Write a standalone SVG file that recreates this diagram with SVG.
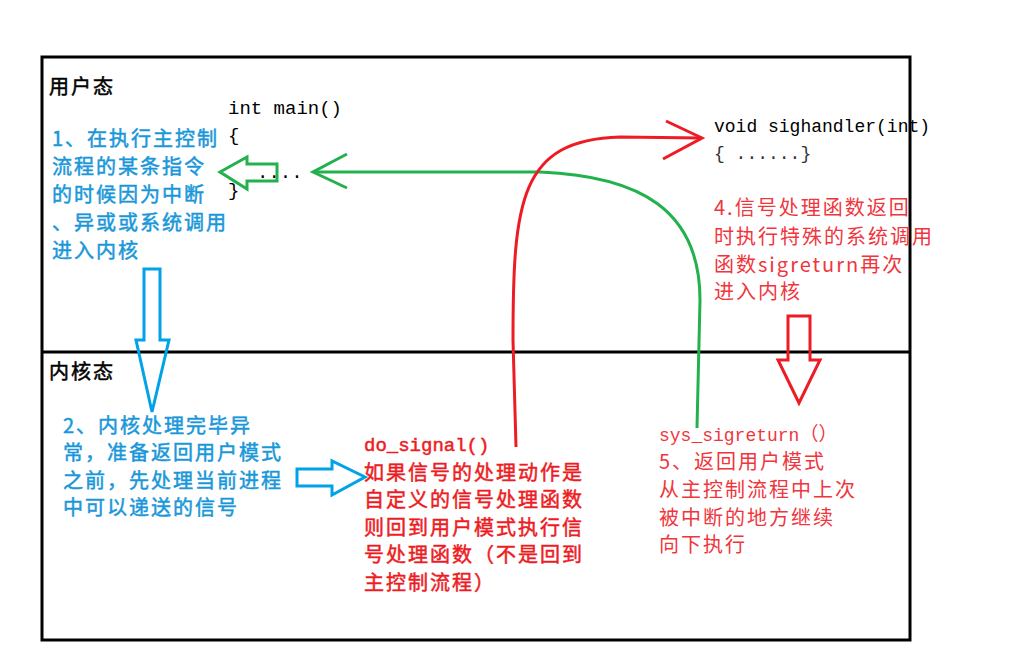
<svg xmlns="http://www.w3.org/2000/svg" width="1020" height="663" viewBox="0 0 1020 663">
<style>
.cjk{font-family:"Noto Sans CJK SC","Liberation Sans",sans-serif;font-size:20px;letter-spacing:2px}
.mono{font-family:"Liberation Mono","DejaVu Sans Mono",monospace;font-size:19px}
.blk{fill:#000}
.bold{stroke-width:0.5px;paint-order:stroke}
.blk.bold{stroke:#000}
.blue{fill:#1a97d9;stroke:#1a97d9}
.red{fill:#ed1c24;stroke:#ed1c24}
.red2{fill:#f0363d}
.frame{fill:none;stroke:#000;stroke-width:3}
.g{fill:none;stroke:#22b14c;stroke-width:3;stroke-linejoin:miter}
.r{fill:none;stroke:#ed1c24;stroke-width:3}
.b{fill:none;stroke:#00a2e8;stroke-width:3}
</style>
<rect x="0" y="0" width="1020" height="663" fill="#fff"/>
<g id="frame">
<rect class="frame" x="42" y="57" width="868" height="583"/>
<line class="frame" x1="42" y1="352" x2="910" y2="352"/>
</g>
<g id="user-mode">
<text class="cjk blk bold" x="49" y="94">用户态</text>
</g>
<g id="kernel-mode">
<text class="cjk blk bold" x="49" y="379">内核态</text>
</g>
<g id="main-code">
<text class="mono blk" x="228" y="114">int main()</text>
<text class="mono blk" x="228" y="141">{</text>
<text class="mono blk" x="257" y="178">....</text>
<text class="mono blk" x="228" y="196">}</text>
</g>
<g id="handler-code">
<text class="mono blk" x="714" y="132" style="font-size:18px">void sighandler(int)</text>
<text class="mono" x="714" y="159" style="font-size:18px;fill:#333">{ ......}</text>
</g>
<g id="step1">
<text class="cjk blue bold" x="52" y="146">1、在执行主控制</text>
<text class="cjk blue bold" x="52" y="174">流程的某条指令</text>
<text class="cjk blue bold" x="52" y="202">的时候因为中断</text>
<text class="cjk blue bold" x="52" y="230">、异或或系统调用</text>
<text class="cjk blue bold" x="52" y="258">进入内核</text>
</g>
<g id="step2">
<text class="cjk blue bold" x="63" y="433">2、内核处理完毕异</text>
<text class="cjk blue bold" x="63" y="460">常，准备返回用户模式</text>
<text class="cjk blue bold" x="63" y="488">之前，先处理当前进程</text>
<text class="cjk blue bold" x="63" y="515">中可以递送的信号</text>
</g>
<g id="step3">
<text class="mono red bold" x="364" y="451">do_signal()</text>
<text class="cjk red bold" x="364" y="480">如果信号的处理动作是</text>
<text class="cjk red bold" x="364" y="507">自定义的信号处理函数</text>
<text class="cjk red bold" x="364" y="535">则回到用户模式执行信</text>
<text class="cjk red bold" x="364" y="562">号处理函数（不是回到</text>
<text class="cjk red bold" x="364" y="590">主控制流程）</text>
</g>
<g id="step4">
<text class="cjk red2" x="714" y="215">4.信号处理函数返回</text>
<text class="cjk red2" x="714" y="244">时执行特殊的系统调用</text>
<text class="cjk red2" x="714" y="272">函数sigreturn再次</text>
<text class="cjk red2" x="714" y="299">进入内核</text>
</g>
<g id="step5">
<text class="mono red2" x="659" y="441" style="font-size:18px">sys_sigreturn<tspan style="font-family:'Noto Sans CJK SC',sans-serif;font-size:19px">（）</tspan></text>
<text class="cjk red2" x="659" y="469">5、返回用户模式</text>
<text class="cjk red2" x="659" y="497">从主控制流程中上次</text>
<text class="cjk red2" x="659" y="525">被中断的地方继续</text>
<text class="cjk red2" x="659" y="552">向下执行</text>
</g>
<g id="connectors">
<path class="b" d="M144,269 L160,269 L160,340 L169,340 L152,412 L136,340 L144,340 Z"/>
<path class="b" d="M297,469 L332,469 L332,461 L365,477 L332,495 L332,486 L297,486 Z"/>
<path class="g" d="M220,172 L247,157 L247,164 L277,164 L277,181 L247,181 L247,189 Z"/>
<path class="g" d="M347,154 L313,172 L347,188"/>
<path class="g" d="M313,172 L540,172 C640,176 700,210 700,300 L697,428"/>
<path class="r" d="M516,447 L513,340 C513,200 520,140 620,137 L702,138"/>
<path class="r" d="M666,121 L702,138 L663,159"/>
<path class="r" d="M788,316 L810,316 L810,360 L820,360 L799,403 L778,360 L788,360 Z"/>
</g>
</svg>
